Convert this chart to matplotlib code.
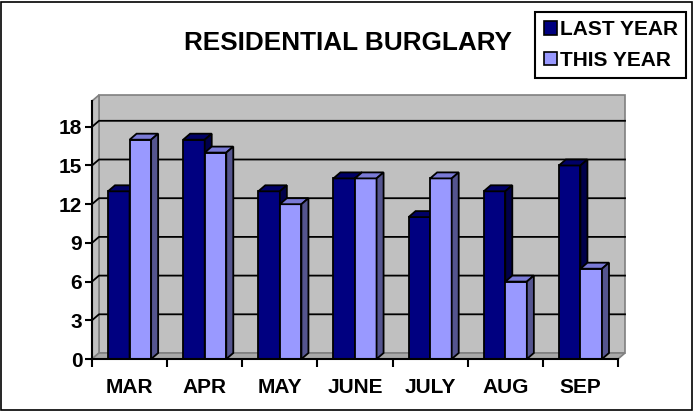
import matplotlib
matplotlib.use("Agg")
import matplotlib.pyplot as plt
import matplotlib.patches as patches
import matplotlib.font_manager as fm


def czcionka(rozmiar):
    return fm.FontProperties(family='Liberation Sans', weight='bold', size=rozmiar)


miesiace = ["MAR", "APR", "MAY", "JUNE", "JULY", "AUG", "SEP"]
last_year = [13, 17, 13, 14, 11, 13, 15]
this_year = [17, 16, 12, 14, 14, 6, 7]
y_ticks = [0, 3, 6, 9, 12, 15, 18]

kolor_last = ("#000080", "#000066", "#00004a")   # front, top, side
kolor_this = ("#9999ff", "#7a7ad6", "#55558f")

W, H = 694, 411
fig = plt.figure(figsize=(W / 100, H / 100), dpi=100)
ax = fig.add_axes([92 / W, (H - 359) / H, 526 / W, 258 / H])

n = len(miesiace)
ymax = 20
ax.set_xlim(0, n)
ax.set_ylim(0, ymax)

# glebokosc efektu 3D w jednostkach danych
DX = 7 / (526 / n)
DY = 6 / (258 / ymax)
sciana = "#c0c0c0"
krawedz = "#808080"

# sciana tylna, boczna i podloga
ax.add_patch(patches.Polygon([(DX, DY), (n + DX, DY), (n + DX, ymax + DY), (DX, ymax + DY)],
                             closed=True, facecolor=sciana, edgecolor=krawedz, lw=1.2,
                             clip_on=False, zorder=0))
ax.add_patch(patches.Polygon([(0, 0), (DX, DY), (DX, ymax + DY), (0, ymax)],
                             closed=True, facecolor=sciana, edgecolor=krawedz, lw=1.2,
                             clip_on=False, zorder=0))
ax.add_patch(patches.Polygon([(0, 0), (n, 0), (n + DX, DY), (DX, DY)],
                             closed=True, facecolor="#a8a8a8", edgecolor=krawedz, lw=1.2,
                             clip_on=False, zorder=0.5))

# linie siatki
for v in y_ticks[1:]:
    ax.plot([0, DX, n + DX], [v, v + DY, v + DY], color="black", lw=1.3,
            clip_on=False, zorder=1)

w = 0.287


def slupek(x0, v, kolory):
    przod, gora, bok = kolory
    ax.bar(x0, v, width=w, align='edge', color=przod, edgecolor="black", lw=1.3, zorder=2)
    ax.add_patch(patches.Polygon([(x0, v), (x0 + w, v), (x0 + w + DX, v + DY), (x0 + DX, v + DY)],
                                 closed=True, facecolor=gora, edgecolor="black", lw=1.3,
                                 clip_on=False, zorder=2))
    ax.add_patch(patches.Polygon([(x0 + w, 0), (x0 + w + DX, DY), (x0 + w + DX, v + DY), (x0 + w, v)],
                                 closed=True, facecolor=bok, edgecolor="black", lw=1.3,
                                 clip_on=False, zorder=2))


for i in range(n):
    c = i + 0.5
    slupek(c - w, last_year[i], kolor_last)
    slupek(c, this_year[i], kolor_this)

# osie
for s in ["top", "right"]:
    ax.spines[s].set_visible(False)
for s in ["left", "bottom"]:
    ax.spines[s].set_linewidth(1.5)
    ax.spines[s].set_zorder(3)

ax.set_yticks(y_ticks)
ax.set_yticklabels([str(v) for v in y_ticks], fontproperties=czcionka(15))
ax.tick_params(axis='y', length=5, width=1.5, pad=2)

ax.set_xticks(range(n + 1))
ax.set_xticklabels([])
ax.tick_params(axis='x', which='major', length=6, width=1.5)
ax.set_xticks([i + 0.5 for i in range(n)], minor=True)
ax.set_xticklabels(miesiace, minor=True, fontproperties=czcionka(15))
ax.tick_params(axis='x', which='minor', length=0, pad=14)

fig.text(348 / W, 1 - 43 / H, "RESIDENTIAL BURGLARY", ha='center', va='center',
         fontproperties=czcionka(18.8))

uchwyty = [patches.Patch(facecolor=kolor_last[0], edgecolor="black", lw=1.2),
           patches.Patch(facecolor=kolor_this[0], edgecolor="black", lw=1.2)]
leg = fig.legend(uchwyty, ["LAST YEAR", "THIS YEAR"], loc='upper right',
                 bbox_to_anchor=(686 / W, 1 - 12 / H), fancybox=False, shadow=False,
                 framealpha=1, edgecolor="black", borderaxespad=0,
                 handlelength=0.62, handleheight=0.62, handletextpad=0.15,
                 labelspacing=0.55, borderpad=0.4, prop=czcionka(15))
leg.get_frame().set_linewidth(1.5)

# ramka wokol calego wykresu
fig.add_artist(patches.Rectangle((1 / W, 1 / H), 1 - 3 / W, 1 - 3 / H,
                                 transform=fig.transFigure, fill=False,
                                 edgecolor="black", lw=1.2))

fig.savefig("out.png", dpi=100)
